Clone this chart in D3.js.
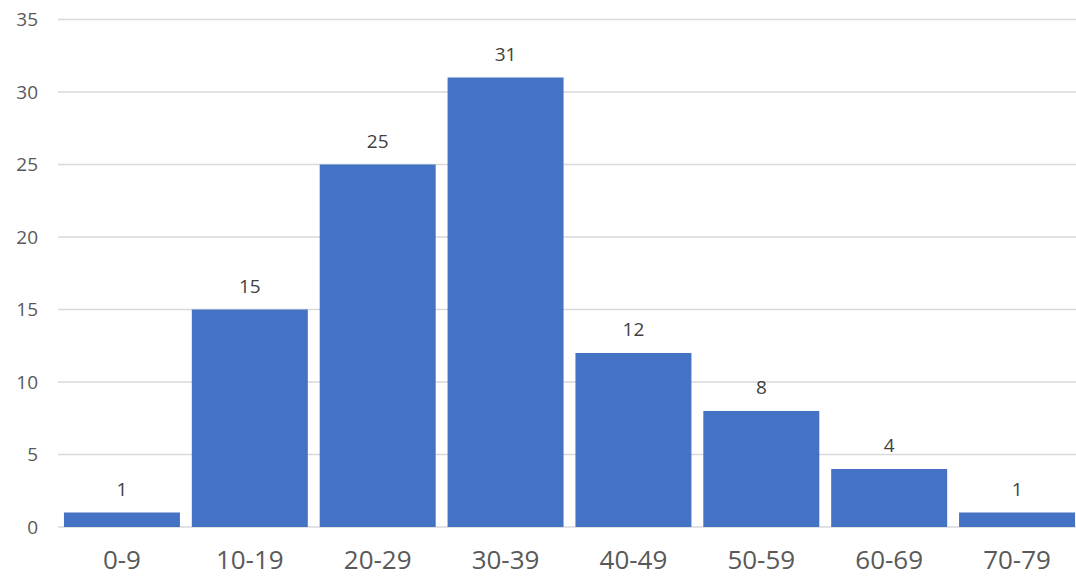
<!DOCTYPE html>
<html><head><meta charset="utf-8">
<script src="https://cdn.jsdelivr.net/npm/d3@7"></script>
<style>body{margin:0;background:#fff;overflow:hidden}svg{display:block}</style>
</head><body>
<svg id="c" width="1076" height="578"></svg>
<script>
const categories = ["0-9","10-19","20-29","30-39","40-49","50-59","60-69","70-79"];
const values = [1,15,25,31,12,8,4,1];
const yTicks = [0,5,10,15,20,25,30,35];

const svg = d3.select("#c");
const font = "'Open Sans','Noto Sans','DejaVu Sans',sans-serif";
const x = d3.scaleBand().domain(categories).range([58, 1081]).paddingInner(0.093).paddingOuter(0.0465);
const y = d3.scaleLinear().domain([0,35]).range([527, 19.5]);

svg.selectAll("line.grid").data(yTicks).join("line")
  .attr("x1",58).attr("x2",1076).attr("y1",d=>y(d)).attr("y2",d=>y(d))
  .attr("stroke","#d9d9d9").attr("stroke-width",1.5);

const yAxis = svg.append("g").attr("transform","translate(58,0)")
  .call(d3.axisLeft(y).tickValues(yTicks).tickSize(0).tickPadding(20));
yAxis.select(".domain").remove();
yAxis.selectAll("text").attr("fill","#595959").style("font-family",font).style("font-size","19px");

svg.selectAll("rect.bar").data(values).join("rect")
  .attr("x",(d,i)=>x(categories[i])).attr("width",x.bandwidth())
  .attr("y",d=>y(d)).attr("height",d=>y(0)-y(d)).attr("fill","#4472C4");

svg.selectAll("text.val").data(values).join("text")
  .attr("x",(d,i)=>x(categories[i])+x.bandwidth()/2).attr("y",d=>y(d)-17)
  .attr("text-anchor","middle").attr("fill","#404040")
  .style("font-family",font).style("font-size","19px").text(d=>d);

const xAxis = svg.append("g").attr("transform","translate(0,527)")
  .call(d3.axisBottom(x).tickSize(0).tickPadding(24));
xAxis.select(".domain").remove();
xAxis.selectAll("text").attr("fill","#595959").style("font-family",font).style("font-size","26px");
</script>
</body></html>
